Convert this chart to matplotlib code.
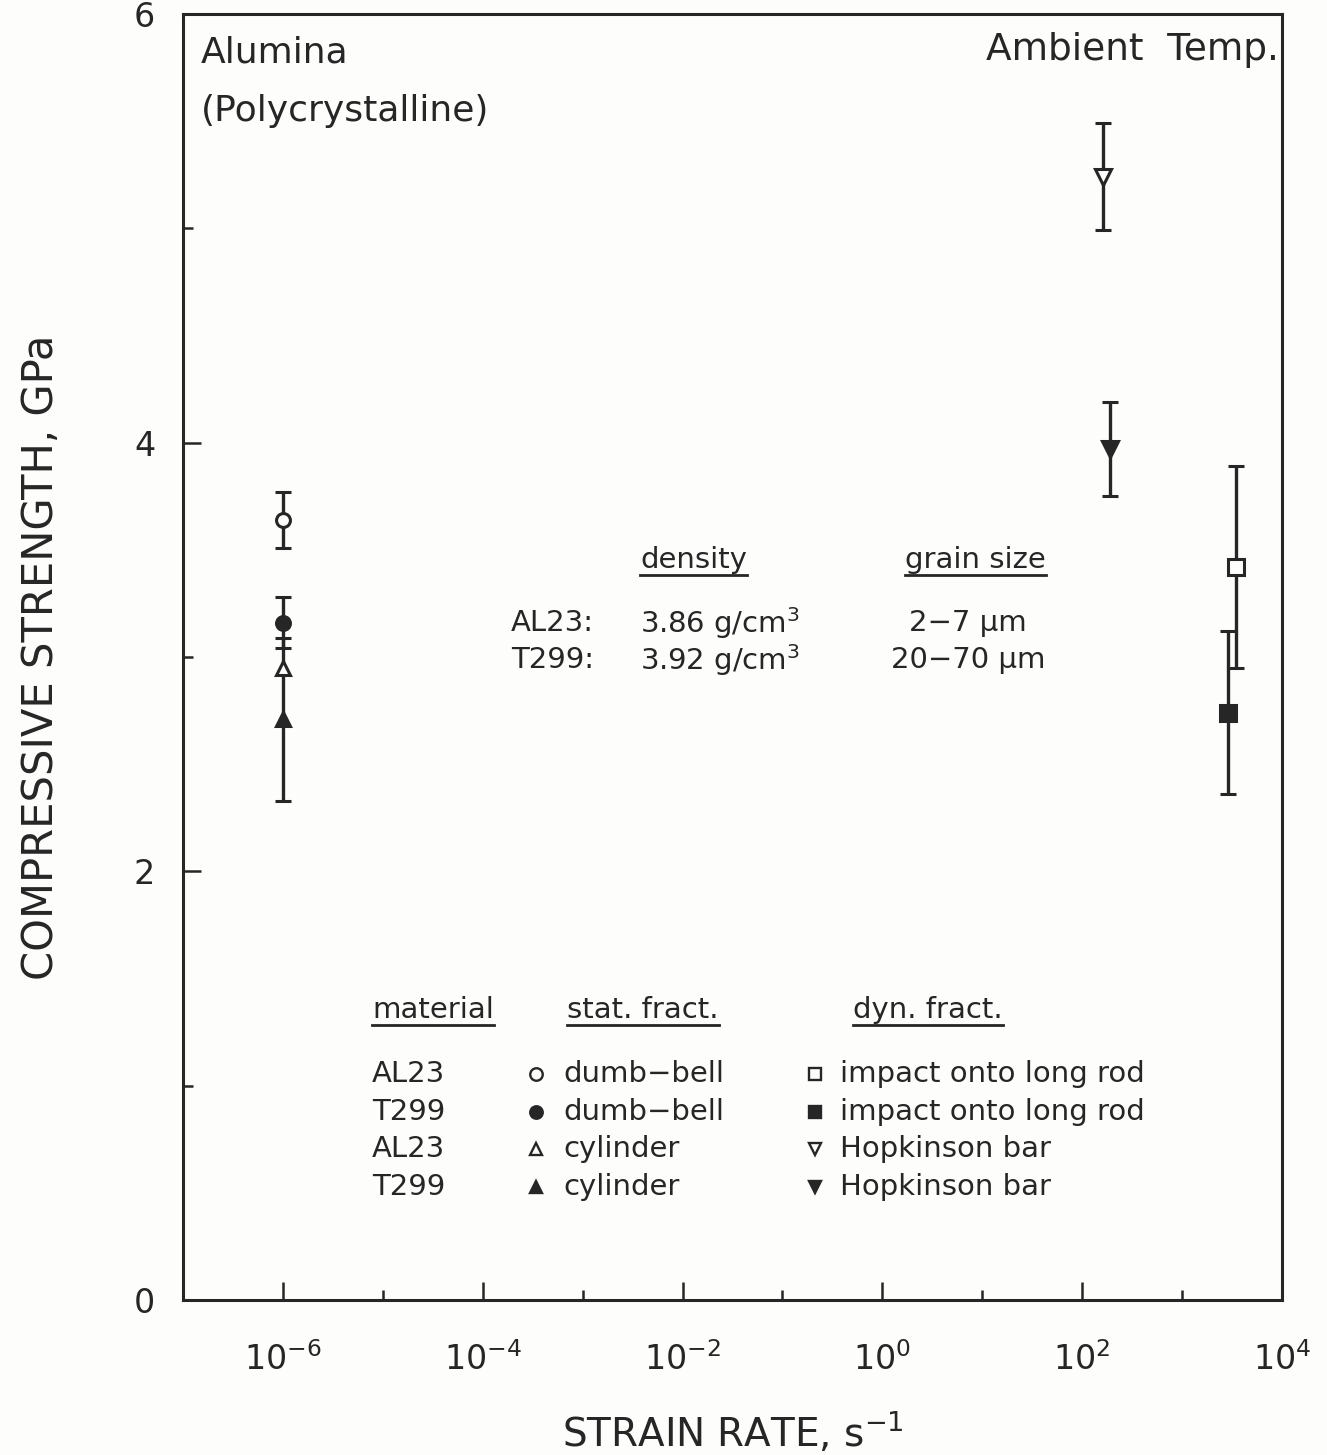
import numpy as np
import matplotlib
matplotlib.use('Agg')
import matplotlib.pyplot as plt
from matplotlib.lines import Line2D

plt.rcParams['font.family'] = ['DejaVu Sans']
plt.rcParams['mathtext.fontset'] = 'dejavusans'

INK = '#262626'

# static tests at 1e-6 s^-1
stat_rate = [1e-6, 1e-6, 1e-6, 1e-6]
stat_strength = [3.64, 3.16, 2.95, 2.71]
stat_err = [0.13, 0.12, 0.0, 0.38]
stat_marker = ['o', 'o', '^', '^']
stat_filled = [False, True, False, True]

# dynamic tests
dyn_rate = [160, 190, 3460, 2870]
dyn_strength = [5.24, 3.97, 3.42, 2.74]
dyn_err = [0.25, 0.22, 0.47, 0.38]
dyn_marker = ['v', 'v', 's', 's']
dyn_filled = [False, True, False, True]

x_major = [1e-6, 1e-4, 1e-2, 1e0, 1e2, 1e4]
x_major_labels = ['$10^{-6}$', '$10^{-4}$', '$10^{-2}$', '$10^{0}$', '$10^{2}$', '$10^{4}$']
x_minor = [1e-5, 1e-3, 1e-1, 1e1, 1e3]
y_major = [0, 2, 4, 6]
y_minor = [1, 3, 5]

legend_material = ['AL23', 'T299', 'AL23', 'T299']
legend_stat = ['dumb\u2212bell', 'dumb\u2212bell', 'cylinder', 'cylinder']
legend_dyn = ['impact onto long rod', 'impact onto long rod', 'Hopkinson bar', 'Hopkinson bar']

fig = plt.figure(figsize=(13.27, 14.55), dpi=100)
fig.patch.set_facecolor('#fdfdfc')
ax = fig.add_axes([0.1379, 0.1065, 0.8282, 0.8839])
ax.set_facecolor('#fdfdfc')
ax.set_xscale('log')
ax.set_xlim(1e-7, 1e4)
ax.set_ylim(0, 6)


def draw_points(rates, vals, errs, markers, filled, ms):
    for r, v, e, m, f in zip(rates, vals, errs, markers, filled):
        ax.errorbar([r], [v], yerr=[e] if e > 0 else None, fmt=m, ms=ms,
                    mfc=INK if f else '#fdfdfc', mec=INK, mew=2.2,
                    ecolor=INK, elinewidth=2.4, capsize=6, capthick=2.6,
                    color=INK, zorder=3)


draw_points(stat_rate, stat_strength, stat_err, stat_marker, stat_filled, 10)
draw_points(dyn_rate, dyn_strength, dyn_err, dyn_marker, dyn_filled, 11)

# axes styling
for sp in ax.spines.values():
    sp.set_linewidth(2.2)
    sp.set_color(INK)
ax.set_xticks(x_major)
ax.set_xticklabels(x_major_labels)
ax.set_xticks(x_minor, minor=True)
ax.set_xticklabels([''] * len(x_minor), minor=True)
ax.set_yticks(y_major)
ax.set_yticks(y_minor, minor=True)
ax.tick_params(which='both', direction='in', color=INK, width=1.8)
ax.tick_params(which='major', length=13, labelsize=24, labelcolor=INK)
ax.tick_params(axis='x', which='major', pad=30)
ax.tick_params(axis='y', which='major', pad=20)
ax.tick_params(which='minor', length=7)

ax.set_xlabel('STRAIN RATE, s$^{-1}$', fontsize=28, color=INK, labelpad=24)
ax.set_ylabel('COMPRESSIVE STRENGTH, GPa', fontsize=30, color=INK, labelpad=52)

# corner annotations
ax.text(0.016, 0.983, 'Alumina\n(Polycrystalline)', transform=ax.transAxes,
        fontsize=26, color=INK, ha='left', va='top', linespacing=1.9)
ax.text(0.997, 0.986, 'Ambient  Temp.', transform=ax.transAxes,
        fontsize=27, color=INK, ha='right', va='top')

fs = 21
underlined = []


def fx(px):
    return (px - 183) / 1099.0


def fy(py):
    return (1300 - py) / 1286.0


# density / grain size table
underlined.append(ax.text(fx(640), fy(560), 'density', transform=ax.transAxes,
                          fontsize=fs, color=INK, va='center'))
underlined.append(ax.text(fx(905), fy(560), 'grain size', transform=ax.transAxes,
                          fontsize=fs, color=INK, va='center'))
for row, (name, dens, grain) in enumerate(zip(['AL23:', 'T299:'],
                                              ['3.86 g/cm$^3$', '3.92 g/cm$^3$'],
                                              ['2\u22127 \u03bcm', '20\u221270 \u03bcm'])):
    yy = fy(623 + 37 * row)
    ax.text(fx(511), yy, name, transform=ax.transAxes, fontsize=fs, color=INK, va='center')
    ax.text(fx(640), yy, dens, transform=ax.transAxes, fontsize=fs, color=INK, va='center')
    ax.text(fx(968), yy, grain, transform=ax.transAxes, fontsize=fs, color=INK,
            va='center', ha='center')

# symbol key
underlined.append(ax.text(fx(372), fy(1010), 'material', transform=ax.transAxes,
                          fontsize=fs, color=INK, va='center'))
underlined.append(ax.text(fx(567), fy(1010), 'stat. fract.', transform=ax.transAxes,
                          fontsize=fs, color=INK, va='center'))
underlined.append(ax.text(fx(853), fy(1010), 'dyn. fract.', transform=ax.transAxes,
                          fontsize=fs, color=INK, va='center'))
stat_keys = [('o', False), ('o', True), ('^', False), ('^', True)]
dyn_keys = [('s', False), ('s', True), ('v', False), ('v', True)]
for row in range(4):
    yy = fy(1074 + 37.6 * row)
    ax.text(fx(372), yy, legend_material[row], transform=ax.transAxes,
            fontsize=fs, color=INK, va='center')
    m, f = stat_keys[row]
    ax.plot([fx(536)], [yy], marker=m, ms=9, mfc=INK if f else 'none', mec=INK,
            mew=1.7, transform=ax.transAxes, clip_on=False)
    ax.text(fx(563), yy, legend_stat[row], transform=ax.transAxes,
            fontsize=fs, color=INK, va='center')
    m, f = dyn_keys[row]
    ax.plot([fx(815)], [yy], marker=m, ms=9, mfc=INK if f else 'none', mec=INK,
            mew=1.7, transform=ax.transAxes, clip_on=False)
    ax.text(fx(840), yy, legend_dyn[row], transform=ax.transAxes,
            fontsize=fs, color=INK, va='center')

# underline headings
fig.canvas.draw()
renderer = fig.canvas.get_renderer()
inv = fig.transFigure.inverted()
for t in underlined:
    bb = t.get_window_extent(renderer)
    (x0, y0), (x1, y1) = inv.transform([[bb.x0, bb.y0], [bb.x1, bb.y0]])
    fig.add_artist(Line2D([x0, x1], [y0 - 0.001, y1 - 0.001], color=INK, lw=2.0,
                          transform=fig.transFigure))

fig.savefig('out.png', dpi=100, facecolor=fig.get_facecolor())
